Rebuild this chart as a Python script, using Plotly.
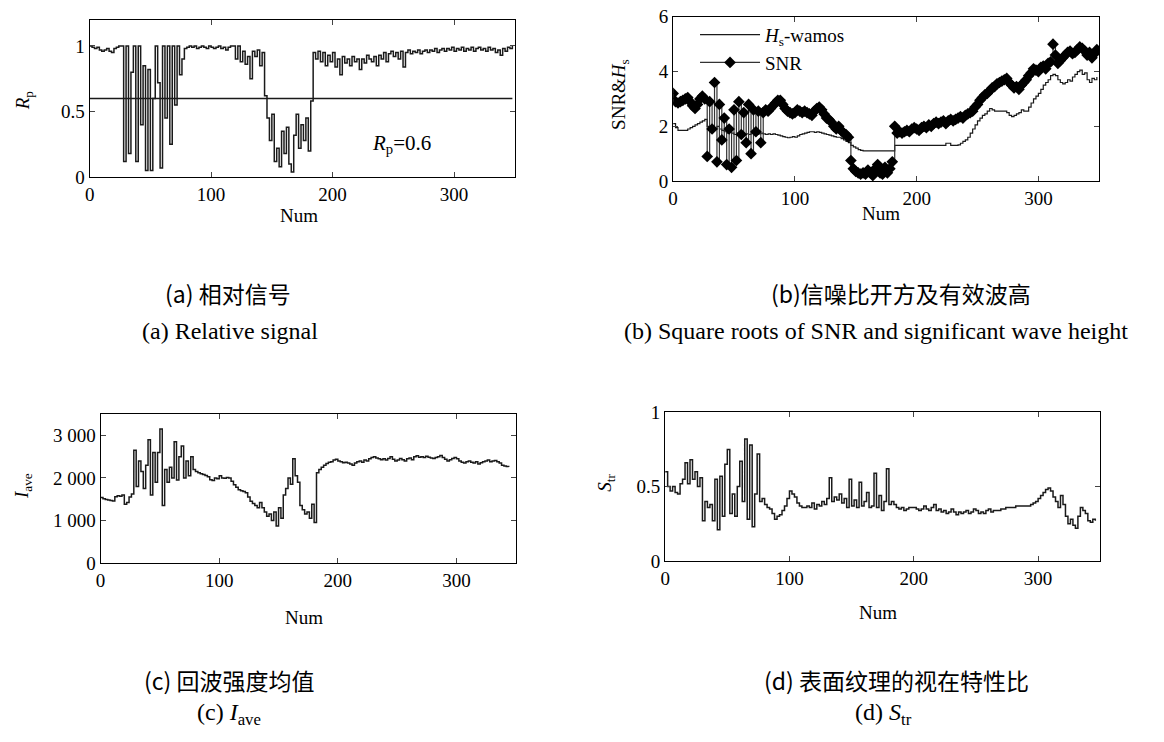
import plotly.graph_objects as go

# ---------------- data (sampled every 2 Num) ----------------
RP = [1.0, 0.99, 0.98, 0.99, 0.97, 0.96, 0.97, 0.98, 0.96, 0.95,
      0.98, 0.99, 1.0, 1.0, 0.12, 1.0, 0.18, 0.8, 1.0, 0.12,
      1.0, 0.4, 0.85, 0.05, 0.82, 0.05, 0.6, 1.0, 0.72, 0.07,
      1.0, 0.45, 1.0, 0.25, 1.0, 0.55, 1.0, 0.78, 0.9, 0.98,
      0.99, 1.0, 0.99, 1.0, 0.98, 0.99, 1.0, 0.99, 0.98, 1.0,
      0.99, 0.98, 0.99, 1.0, 0.98, 0.99, 0.97, 0.99, 1.0, 1.0,
      0.9, 1.0, 0.88, 0.96, 0.86, 0.92, 0.75, 0.96, 0.92, 0.97,
      0.85, 0.95, 0.62, 0.45, 0.28, 0.48, 0.12, 0.22, 0.08, 0.35,
      0.18, 0.38, 0.1, 0.04, 0.32, 0.48, 0.22, 0.4, 0.28, 0.45,
      0.2, 0.58, 0.95, 0.9, 0.96, 0.88, 0.95, 0.85, 0.93, 0.88,
      0.95, 0.84, 0.9, 0.78, 0.92, 0.87, 0.9, 0.85, 0.92, 0.88,
      0.9, 0.82, 0.9, 0.87, 0.93, 0.9, 0.88, 0.92, 0.85, 0.93,
      0.9, 0.95, 0.88, 0.94, 0.96, 0.92, 0.95, 0.9, 0.96, 0.84,
      0.95, 0.97, 0.94, 0.96, 0.95, 0.97, 0.94, 0.96, 0.97, 0.95,
      0.97, 0.96, 0.98, 0.95, 0.97, 0.98, 0.96, 0.98, 0.97, 0.99,
      0.96, 0.98, 0.97, 0.99, 0.96, 0.98, 0.97, 0.99, 0.96, 0.98,
      0.99, 0.97, 0.98, 0.96, 0.99, 0.97, 0.98, 0.95, 0.97, 0.93,
      0.98, 0.96, 0.99, 0.98, 1.0]
RP_THRESHOLD = 0.6

HS = [2.1, 1.95, 1.85, 1.85, 1.85, 1.85, 1.9, 1.95, 2.0, 2.05,
      2.1, 2.15, 2.2, 2.25, 2.0, 1.9, 1.95, 1.9, 2.0, 1.9,
      1.85, 1.8, 1.75, 1.8, 1.75, 1.7, 1.75, 1.7, 1.75, 1.7,
      1.72, 1.7, 1.75, 1.7, 1.7, 1.72, 1.75, 1.72, 1.7, 1.72,
      1.7, 1.72, 1.7, 1.68, 1.65, 1.62, 1.6, 1.58, 1.6, 1.62,
      1.6, 1.65, 1.7, 1.72, 1.75, 1.78, 1.8, 1.8, 1.78, 1.8,
      1.78, 1.75, 1.72, 1.7, 1.68, 1.65, 1.62, 1.6, 1.6, 1.55,
      1.5, 1.45, 1.4, 1.3, 1.25, 1.2, 1.15, 1.12, 1.1, 1.1,
      1.1, 1.1, 1.1, 1.1, 1.1, 1.1, 1.1, 1.1, 1.1, 1.1,
      1.1, 1.3, 1.3, 1.3, 1.3, 1.3, 1.3, 1.3, 1.3, 1.3,
      1.3, 1.3, 1.3, 1.3, 1.3, 1.3, 1.3, 1.3, 1.3, 1.3,
      1.3, 1.3, 1.38, 1.38, 1.3, 1.3, 1.3, 1.32, 1.38, 1.45,
      1.5, 1.6, 1.75, 1.9, 2.05, 2.2, 2.3, 2.4, 2.45, 2.55,
      2.65, 2.6, 2.55, 2.55, 2.55, 2.55, 2.55, 2.5, 2.4, 2.35,
      2.4, 2.45, 2.5, 2.6, 2.55, 2.55, 2.7, 2.85, 3.0, 3.1,
      3.2, 3.35, 3.5, 3.6, 3.7, 3.85, 3.9, 3.85, 3.7, 3.6,
      3.55, 3.6, 3.7, 3.65, 3.8, 3.9, 4.0, 4.05, 3.9, 3.95,
      3.7, 3.6, 3.75, 3.7, 3.8]

SNR = [3.2, 2.9, 2.85, 2.9, 2.95, 3.0, 3.05, 2.9, 2.75, 2.65,
       2.8, 3.0, 3.1, 3.0, 0.9, 2.9, 1.9, 3.6, 0.7, 2.8,
       1.5, 2.3, 0.6, 1.9, 0.5, 2.6, 0.75, 2.9, 1.7, 2.5,
       1.4, 2.8, 1.0, 2.6, 1.8, 2.55, 1.4, 2.5, 2.6, 2.55,
       2.65, 2.75, 2.85, 2.95, 2.95, 2.8, 2.65, 2.55, 2.5, 2.45,
       2.5, 2.6, 2.55, 2.5, 2.55, 2.5, 2.45, 2.4, 2.55, 2.65,
       2.7, 2.6, 2.45, 2.3, 2.25, 2.15, 2.0, 1.9, 2.0, 1.85,
       1.75, 1.7, 1.6, 0.75, 0.45, 0.35, 0.3, 0.25, 0.3, 0.25,
       0.4, 0.3, 0.2, 0.45, 0.6, 0.3, 0.25, 0.5, 0.3, 0.45,
       0.7, 2.0, 1.75, 1.8, 1.75, 1.8, 1.85, 1.8, 1.9, 1.95,
       1.9, 1.85, 1.95, 2.0, 1.95, 2.05, 2.0, 2.1, 2.15, 2.1,
       2.15, 2.2, 2.1, 2.2, 2.25, 2.2, 2.25, 2.3, 2.35, 2.3,
       2.4, 2.45, 2.5, 2.55, 2.7, 2.8, 2.95, 3.05, 3.15, 3.2,
       3.3, 3.4, 3.45, 3.55, 3.6, 3.65, 3.7, 3.75, 3.6, 3.5,
       3.4, 3.45, 3.35, 3.5, 3.6, 3.7, 3.85, 3.95, 4.1, 4.05,
       4.0, 4.15, 4.2, 4.1, 4.3, 4.35, 5.0, 4.6, 4.3, 4.4,
       4.5, 4.6, 4.7, 4.75, 4.65, 4.7, 4.8, 4.9, 4.85, 4.75,
       4.6, 4.7, 4.5, 4.65, 4.8]

IAVE = [1540, 1510, 1490, 1480, 1470, 1460, 1560, 1580, 1570, 1600,
        1380, 1420, 1550, 1620, 2650, 1800, 2400, 2150, 1750, 2300,
        2900, 1600, 2600, 1900, 2600, 3150, 1350, 2200, 1900, 2250,
        2000, 2850, 1950, 2500, 2750, 2000, 2400, 2050, 2500, 2200,
        2150, 2120, 2100, 2080, 2060, 2030, 1960, 1940, 2000, 1980,
        2050, 2000, 1990, 2010, 2000, 1920, 1840, 1780, 1720, 1700,
        1680, 1650, 1550, 1450, 1400, 1350, 1300, 1420, 1300, 1200,
        1100, 1150, 1000, 1200, 870, 1300, 1050, 1600, 1750, 2000,
        1850, 2450, 2050, 1900, 1350, 1250, 1150, 1200, 1050, 1380,
        950, 2120, 2200, 2250, 2300, 2340, 2370, 2380, 2420, 2440,
        2400, 2380, 2360, 2370, 2350, 2330, 2300, 2350, 2380, 2400,
        2370, 2420, 2400, 2450, 2480, 2500, 2470, 2450, 2430, 2450,
        2420, 2460, 2500, 2440, 2400, 2420, 2460, 2430, 2400, 2450,
        2470, 2430, 2500, 2520, 2490, 2500, 2480, 2510, 2490, 2470,
        2460, 2480, 2500, 2530, 2480, 2440, 2400, 2430, 2460, 2480,
        2450, 2400, 2370, 2350, 2380, 2400, 2370, 2350, 2380, 2330,
        2360, 2380, 2400, 2420, 2380, 2400, 2410, 2380, 2350, 2300,
        2280, 2270, 2260]

STR = [0.6, 0.5, 0.47, 0.5, 0.46, 0.45, 0.52, 0.55, 0.66, 0.52,
       0.68, 0.55, 0.6, 0.5, 0.56, 0.27, 0.4, 0.36, 0.38, 0.27,
       0.55, 0.21, 0.57, 0.3, 0.65, 0.75, 0.32, 0.45, 0.3, 0.5,
       0.67, 0.4, 0.82, 0.28, 0.78, 0.23, 0.45, 0.72, 0.4, 0.42,
       0.38, 0.36, 0.35, 0.32, 0.28, 0.3, 0.31, 0.34, 0.37, 0.42,
       0.47, 0.45, 0.43, 0.39, 0.37, 0.36, 0.36, 0.37, 0.36, 0.39,
       0.35, 0.38, 0.37, 0.4, 0.38, 0.42, 0.56, 0.4, 0.43, 0.41,
       0.45, 0.39, 0.42, 0.36, 0.55, 0.37, 0.41, 0.36, 0.53, 0.37,
       0.4, 0.46, 0.36, 0.37, 0.59, 0.36, 0.44, 0.34, 0.4, 0.62,
       0.38, 0.4, 0.38, 0.36, 0.35, 0.36, 0.34, 0.35, 0.36, 0.36,
       0.36, 0.35, 0.34, 0.35, 0.37, 0.35, 0.34, 0.36, 0.38, 0.34,
       0.35, 0.33, 0.34, 0.32, 0.33, 0.35, 0.33, 0.31, 0.33, 0.32,
       0.33, 0.34, 0.32, 0.33, 0.35, 0.34, 0.32, 0.33, 0.32, 0.34,
       0.35, 0.33, 0.34, 0.34, 0.34, 0.35, 0.35, 0.36, 0.36, 0.36,
       0.36, 0.37, 0.37, 0.37, 0.37, 0.37, 0.37, 0.38, 0.39, 0.4,
       0.42, 0.44, 0.46, 0.48, 0.49, 0.47, 0.43, 0.4, 0.36, 0.44,
       0.38, 0.3, 0.25, 0.28, 0.24, 0.22, 0.3, 0.36, 0.34, 0.32,
       0.27, 0.26, 0.28, 0.27]

NUM_STEP = 2
X_TICKS = [0, 100, 200, 300]


def num(series):
    return [NUM_STEP * i for i in range(len(series))]


W, H = 1164, 742
SERIF = "Liberation Serif, Times New Roman, serif"
CJK = "Noto Sans CJK SC"
INK = "#1a1a1a"


def px(x):
    return min(1.0, max(0.0, x / W))


def py(y):
    return min(1.0, max(0.0, 1 - y / H))


fig = go.Figure()

# (a) relative signal
fig.add_trace(go.Scatter(x=num(RP), y=RP, mode="lines", line=dict(color=INK, width=1.5, shape="hv"),
                         xaxis="x", yaxis="y", showlegend=False))
fig.add_trace(go.Scatter(x=[num(RP)[0], num(RP)[-1]], y=[RP_THRESHOLD, RP_THRESHOLD], mode="lines",
                         line=dict(color=INK, width=1.5), xaxis="x", yaxis="y", showlegend=False))

# (b) SNR & Hs
fig.add_trace(go.Scatter(x=num(HS), y=HS, mode="lines", name="<i>H</i><sub>s</sub>-wamos",
                         line=dict(color=INK, width=1.2, shape="hv"), xaxis="x2", yaxis="y2"))
fig.add_trace(go.Scatter(x=num(SNR), y=SNR, mode="lines+markers", name="SNR",
                         line=dict(color="#333333", width=1.2, shape="hv"),
                         marker=dict(symbol="diamond", size=9, color="black"),
                         xaxis="x2", yaxis="y2"))

# (c) Iave
fig.add_trace(go.Scatter(x=num(IAVE), y=IAVE, mode="lines", line=dict(color=INK, width=1.5, shape="hv"),
                         xaxis="x3", yaxis="y3", showlegend=False))

# (d) Str
fig.add_trace(go.Scatter(x=num(STR), y=STR, mode="lines", line=dict(color=INK, width=1.5, shape="hv"),
                         xaxis="x4", yaxis="y4", showlegend=False))

tickfont = dict(family=SERIF, size=19, color="black")


def xax(l, r, anchor):
    return dict(domain=[px(l), px(r)], range=[0, 350], tickvals=X_TICKS, ticks="inside", ticklen=5,
                showline=True, linecolor="black", linewidth=1.3, mirror="ticks", showgrid=False,
                zeroline=False, tickfont=tickfont, anchor=anchor, fixedrange=True)


def yax(t, b, rng, vals, texts, anchor):
    return dict(domain=[py(b), py(t)], range=rng, tickvals=vals, ticktext=texts, ticks="inside", ticklen=5,
                showline=True, linecolor="black", linewidth=1.3, mirror="ticks", showgrid=False,
                zeroline=False, tickfont=tickfont, anchor=anchor, fixedrange=True)


layout = dict(
    width=W, height=H, margin=dict(l=0, r=0, t=0, b=0),
    paper_bgcolor="white", plot_bgcolor="white",
    xaxis=xax(85, 512, "y"),
    yaxis=yax(10, 172, [0, 1.2], [0, 0.5, 1], ["0", "0.5", "1"], "x"),
    xaxis2=xax(671, 1099, "y2"),
    yaxis2=yax(7, 176, [0, 6], [0, 2, 4, 6], ["0", "2", "4", "6"], "x2"),
    xaxis3=xax(96, 513, "y3"),
    yaxis3=yax(416, 569, [0, 3500], [0, 1000, 2000, 3000], ["0", "1 000", "2 000", "3 000"], "x3"),
    xaxis4=xax(663, 1100, "y4"),
    yaxis4=yax(414, 567, [0, 1], [0, 0.5, 1], ["0", "0.5", "1"], "x4"),
    legend=dict(x=px(693), y=py(6), xanchor="left", yanchor="top", bgcolor="rgba(0,0,0,0)",
                font=dict(family=SERIF, size=19, color="black"), tracegroupgap=0, itemwidth=60),
    showlegend=True,
)
fig.update_layout(**layout)

ann = []


def text(x, y, s, size=19, family=SERIF, angle=0):
    ann.append(dict(x=px(x), y=py(y), xref="paper", yref="paper", text=s, showarrow=False,
                    xanchor="center", yanchor="middle", textangle=angle,
                    font=dict(family=family, size=size, color="black")))


# axis titles
text(295, 211, "Num")
text(880, 209, "Num")
text(300, 625, "Num")
text(877, 620, "Num")
text(19, 93, "<i>R</i><sub>p</sub>", angle=-90)
text(617, 87, "SNR&amp;<i>H</i><sub>s</sub>", angle=-90)
text(18, 490, "<i>I</i><sub>ave</sub>", angle=-90)
text(604, 486, "<i>S</i><sub>tr</sub>", angle=-90)

# threshold label
ann.append(dict(x=257, y=0.25, xref="x", yref="y", text="<i>R</i><sub>p</sub>=0.6", showarrow=False,
                font=dict(family=SERIF, size=21, color="black")))

# captions
CAP_CN = 23
CAP_EN = 24
text(224, 291, "(a) 相对信号", size=CAP_CN, family=CJK)
text(226, 330, "(a) Relative signal", size=CAP_EN)
text(900, 291, "(b)信噪比开方及有效波高", size=CAP_CN, family=CJK)
text(875, 330, "(b) Square roots of SNR and significant wave height", size=CAP_EN)
text(225, 690, "(c) 回波强度均值", size=CAP_CN, family=CJK)
text(225, 724, "(c) <i>I</i><sub>ave</sub>", size=CAP_EN)
text(895, 690, "(d) 表面纹理的视在特性比", size=CAP_CN, family=CJK)
text(882, 724, "(d) <i>S</i><sub>tr</sub>", size=CAP_EN)

fig.update_layout(annotations=ann)
fig.write_html("out.html", config={"displayModeBar": False},
               post_script="document.body.style.margin='0';document.body.style.overflow='hidden';")
